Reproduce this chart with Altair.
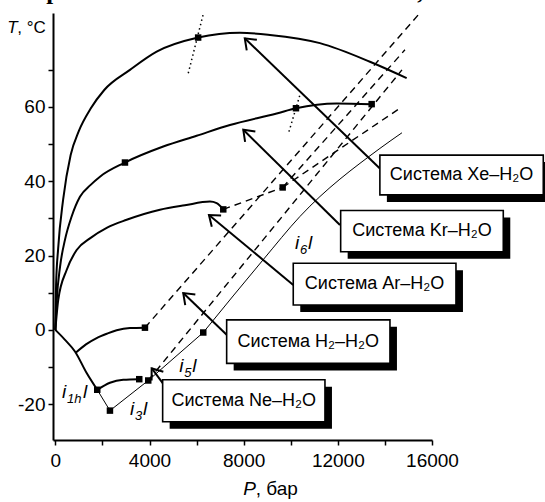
import math
import altair as alt
import pandas as pd

# ---------------- data (P in bar, T in °C) ----------------
xe_P = [0, 30, 120, 330, 650, 1000, 1500, 2077, 3169, 4303, 6066, 7842, 9116, 11240, 13364, 14924]
xe_T = [0, 12, 22, 35, 47, 53.5, 59.5, 64.5, 69.9, 74.8, 78.6, 79.9, 79.3, 77.1, 72.1, 67.7]
kr_P = [0, 60, 200, 408, 692, 1045, 1500, 1895, 2957, 4584, 6000, 7417, 9401, 10221, 11950, 13437]
kr_T = [0, 8, 17, 24.2, 30.5, 35.8, 39, 41.2, 45.0, 49.3, 52.2, 55.1, 58.2, 59.6, 60.9, 60.7]
ar_P = [0, 123, 480, 905, 1470, 2200, 3029, 4443, 5500, 6568, 6852, 7133]
ar_T = [0, 8.1, 16.1, 21.5, 24.6, 27.5, 29.6, 32.3, 33.5, 34.5, 34.1, 32.4]
h2_P = [875, 1300, 1754, 2200, 2604, 3169, 3806]
h2_T = [-6.1, -3.9, -2.2, -1.0, -0.1, 0.5, 0.6]
ne1_P = [0, 400, 833, 1330, 1780]
ne1_T = [0, -2.6, -5.8, -11.6, -16.1]
ne2_P = [1780, 2319, 2884, 3564]
ne2_T = [-16.1, -14.2, -13.4, -13.25]

thinA_P = [1780, 2319, 3946, 6283]
thinA_T = [-16.1, -21.7, -13.6, -0.7]
thinB_P = [6283, 8819, 10391, 13789, 14724]
thinB_T = [-0.7, 18.8, 30.5, 48.8, 53.0]

h2d_P = [3806, 15416]
h2d_T = [0.6, 84.7]
ard1_P = [7133, 9656]
ard1_T = [32.4, 38.3]
ard2_P = [9656, 14851]
ard2_T = [38.3, 75.3]
ard3_P = [9656, 14639]
ard3_T = [38.3, 59.6]
ned_P = [3946, 14724]
ned_T = [-13.6, 69.9]

xetan_P = [5646, 6283]
xetan_T = [69.0, 84.9]
krtan_P = [9924, 10391]
krtan_T = [53.3, 63.2]

mk_P = [6066, 2957, 10221, 13437, 7133, 9656, 3806, 1780, 2319, 3564, 3946, 6283]
mk_T = [78.6, 45.0, 59.6, 60.7, 32.4, 38.3, 0.6, -16.1, -21.7, -13.25, -13.6, -0.7]

box_labels = ["Система Xe–H₂O", "Система Kr–H₂O", "Система Ar–H₂O",
              "Система H₂–H₂O", "Система Ne–H₂O"]
box_P1 = [13786, 12120, 10106, 7277, 4558]
box_P2 = [20727, 19028, 17018, 14214, 11453]
box_T1 = [47.0, 32.1, 17.9, 2.7, -13.4]
box_T2 = [36.3, 21.0, 6.7, -9.0, -24.7]

arr_tail_P = [13786, 12090, 10106, 7277, 4584]
arr_tail_T = [43.4, 28.2, 12.1, -1.3, -14.5]
arr_tip_P = [8047, 7983, 6525, 5433, 4091]
arr_tip_T = [78.4, 53.8, 30.9, 9.9, -10.3]

il_base = ["i", "i", "i", "i"]
il_sub = ["1h", "3", "5", "6"]
il_P = [280, 3169, 5263, 10178]
il_T = [-18.3, -22.8, -11.2, 21.8]

x_ticks = [0, 2000, 4000, 6000, 8000, 10000, 12000, 14000, 16000]
y_ticks = [-20, -10, 0, 10, 20, 30, 40, 50, 60, 70]

top_text = "ние расположилось с меньшим азота, т. е. меньшую роль"

# ---------------- layout ----------------
X_DOMAIN = [-100, 16000]
Y_DOMAIN = [-29.6, 85.2]
W, H = 379, 427
SX = W / (X_DOMAIN[1] - X_DOMAIN[0])
SY = H / (Y_DOMAIN[1] - Y_DOMAIN[0])
FONT = "Liberation Sans"

x_axis = alt.Axis(values=x_ticks, title=None, grid=False,
                  labelExpr="datum.value % 4000 == 0 ? '' + datum.value : ''",
                  tickSize=5, tickWidth=1.5, tickColor="black",
                  domainWidth=2, domainColor="black",
                  labelFont=FONT, labelFontSize=19, labelColor="black",
                  labelPadding=6, labelFlush=False, labelOverlap=False)
y_axis = alt.Axis(values=y_ticks, title=None, grid=False,
                  labelExpr="datum.value % 20 == 0 ? '' + datum.value : ''",
                  tickSize=5, tickWidth=1.5, tickColor="black",
                  domainWidth=2, domainColor="black",
                  labelFont=FONT, labelFontSize=19, labelColor="black",
                  labelPadding=3, labelFlush=False, labelOverlap=False)
xsc = alt.Scale(domain=X_DOMAIN, nice=False, zero=False)
ysc = alt.Scale(domain=Y_DOMAIN, nice=False, zero=False)


def X(f="P"):
    return alt.X(f"{f}:Q", scale=xsc, axis=x_axis)


def Y(f="T"):
    return alt.Y(f"{f}:Q", scale=ysc, axis=y_axis)


def lines(series):
    rows = []
    for name, P, T in series:
        for i, (p, t) in enumerate(zip(P, T)):
            rows.append({"s": name, "P": p, "T": t, "i": i})
    return pd.DataFrame(rows)


thick = lines([("Xe", xe_P, xe_T), ("Kr", kr_P, kr_T), ("Ar", ar_P, ar_T),
               ("H2", h2_P, h2_T), ("Ne1", ne1_P, ne1_T), ("Ne2", ne2_P, ne2_T)])
thinA = lines([("tA", thinA_P, thinA_T)])
thinB = lines([("tB", thinB_P, thinB_T)])
dashed = lines([("h2d", h2d_P, h2d_T), ("ard1", ard1_P, ard1_T), ("ard2", ard2_P, ard2_T),
                ("ard3", ard3_P, ard3_T), ("ned", ned_P, ned_T)])
dotted = lines([("xt", xetan_P, xetan_T), ("kt", krtan_P, krtan_T)])
arrows = lines([(f"a{k}", [arr_tail_P[k], arr_tip_P[k]], [arr_tail_T[k], arr_tip_T[k]])
                for k in range(len(arr_tip_P))])

heads = pd.DataFrame({
    "P": arr_tip_P, "T": arr_tip_T,
    "ang": [math.degrees(math.atan2(-(tt - ta) * SY, (tp - tpp) * SX)) % 360
            for tp, tt, tpp, ta in zip(arr_tip_P, arr_tip_T, arr_tail_P, arr_tail_T)],
})
marks = pd.DataFrame({"P": mk_P, "T": mk_T})
boxes = pd.DataFrame({"P1": box_P1, "P2": box_P2, "T1": box_T1, "T2": box_T2,
                      "Pc": [(a + b) / 2 for a, b in zip(box_P1, box_P2)],
                      "Tc": [(a + b) / 2 for a, b in zip(box_T1, box_T2)],
                      "text": box_labels})
ilab = pd.DataFrame({"P": il_P, "T": il_T, "b": il_base, "sub": il_sub,
                     "l": ["l"] * 4, "wide": [s == "1h" for s in il_sub]})

# axis-title and clipped page text positions (data units)
tl = pd.DataFrame({"P": [-2041], "T": [79.74]})
pl = pd.DataFrame({"P": [7984], "T": [-44.3]})
tt = pd.DataFrame({"P": [-2351], "T": [88.9], "text": [top_text]})

L = []
L.append(alt.Chart(thick).mark_line(color="black", strokeWidth=2, interpolate="monotone")
         .encode(x=X(), y=Y(), detail="s:N", order="i:Q"))
L.append(alt.Chart(thinA).mark_line(color="black", strokeWidth=1)
         .encode(x=X(), y=Y(), detail="s:N", order="i:Q"))
L.append(alt.Chart(thinB).mark_line(color="black", strokeWidth=1, interpolate="monotone")
         .encode(x=X(), y=Y(), detail="s:N", order="i:Q"))
L.append(alt.Chart(dashed).mark_line(color="black", strokeWidth=1.4, strokeDash=[7, 5])
         .encode(x=X(), y=Y(), detail="s:N", order="i:Q"))
L.append(alt.Chart(dotted).mark_line(color="black", strokeWidth=1.5, strokeDash=[1.5, 3])
         .encode(x=X(), y=Y(), detail="s:N", order="i:Q"))
L.append(alt.Chart(arrows).mark_line(color="black", strokeWidth=2)
         .encode(x=X(), y=Y(), detail="s:N", order="i:Q"))
L.append(alt.Chart(heads).mark_point(shape="M -1 -0.75 L 0 0 L -1 0.75", filled=False,
                                     stroke="black", strokeWidth=2, size=380, opacity=1)
         .encode(x=X(), y=Y(), angle=alt.Angle("ang:Q", scale=None)))
L.append(alt.Chart(marks).mark_square(color="black", size=42, opacity=1)
         .encode(x=X(), y=Y()))
L.append(alt.Chart(boxes).mark_rect(color="black", xOffset=7, x2Offset=7, yOffset=7, y2Offset=7)
         .encode(x=X("P1"), x2="P2:Q", y=Y("T1"), y2="T2:Q"))
L.append(alt.Chart(boxes).mark_rect(fill="white", stroke="black", strokeWidth=1.6)
         .encode(x=X("P1"), x2="P2:Q", y=Y("T1"), y2="T2:Q"))
L.append(alt.Chart(boxes).mark_text(font=FONT, fontSize=18, color="black", align="center",
                                    baseline="middle")
         .encode(x=X("Pc"), y=Y("Tc"), text="text:N"))
# italic line labels i_n l
L.append(alt.Chart(ilab).mark_text(font=FONT, fontSize=19, fontStyle="italic", color="black",
                                   align="left", baseline="alphabetic")
         .encode(x=X(), y=Y(), text="b:N"))
L.append(alt.Chart(ilab).mark_text(font=FONT, fontSize=13, fontStyle="italic", color="black",
                                   align="left", baseline="alphabetic", dx=5, dy=5)
         .encode(x=X(), y=Y(), text="sub:N"))
L.append(alt.Chart(ilab).transform_filter("datum.wide").mark_text(
    font=FONT, fontSize=19, fontStyle="italic", color="black", align="left",
    baseline="alphabetic", dx=21).encode(x=X(), y=Y(), text="l:N"))
L.append(alt.Chart(ilab).transform_filter("!datum.wide").mark_text(
    font=FONT, fontSize=19, fontStyle="italic", color="black", align="left",
    baseline="alphabetic", dx=13).encode(x=X(), y=Y(), text="l:N"))
# axis titles
L.append(alt.Chart(tl).mark_text(font=FONT, fontSize=17, fontStyle="italic", color="black",
                                 align="left", baseline="alphabetic", text="T")
         .encode(x=X(), y=Y()))
L.append(alt.Chart(tl).mark_text(font=FONT, fontSize=17, color="black", align="left",
                                 baseline="alphabetic", text=", °C", dx=10)
         .encode(x=X(), y=Y()))
L.append(alt.Chart(pl).mark_text(font=FONT, fontSize=19, fontStyle="italic", color="black",
                                 align="left", baseline="alphabetic", text="P")
         .encode(x=X(), y=Y()))
L.append(alt.Chart(pl).mark_text(font=FONT, fontSize=19, color="black", align="left",
                                 baseline="alphabetic", text=", бар", dx=12.5)
         .encode(x=X(), y=Y()))
# clipped line of page text at the very top
L.append(alt.Chart(tt).mark_text(font="Liberation Serif", fontSize=25, fontWeight="bold",
                                 color="black", align="left", baseline="alphabetic")
         .encode(x=X(), y=Y(), text="text:N"))

chart = alt.layer(*L).properties(
    width=W, height=H,
    padding={"left": 53, "top": 13, "right": 545 - 53 - W, "bottom": 502 - 13 - H},
    autosize=alt.AutoSizeParams(type="none"),
    background="white",
).configure_view(stroke=None)

chart.save("out.html", embed_options={"renderer": "svg", "actions": False})
